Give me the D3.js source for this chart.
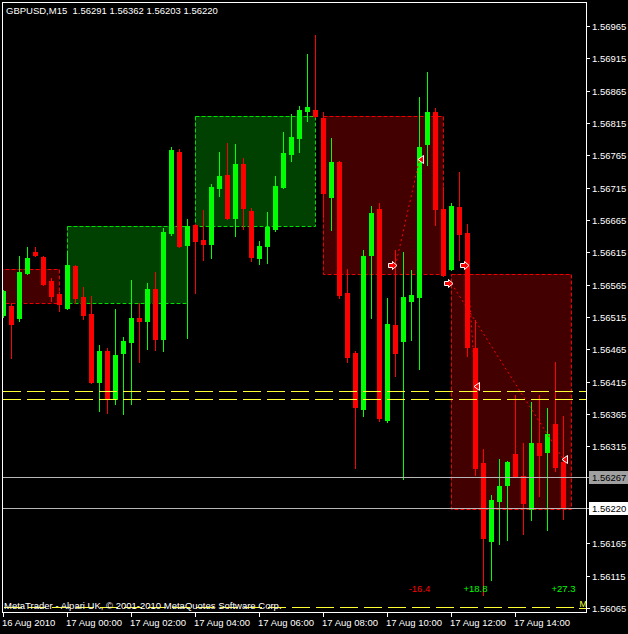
<!DOCTYPE html>
<html><head><meta charset="utf-8">
<script src="https://cdn.jsdelivr.net/npm/d3@7/dist/d3.min.js"></script>
<style>html,body{margin:0;padding:0;background:#000;}svg{display:block;}</style>
</head><body><svg id="c" width="628" height="634"></svg>
<script>
const titleText = "GBPUSD,M15  1.56291 1.56362 1.56203 1.56220";
const copyrightText = "MetaTrader - Alpari UK, \u00A9 2001-2010 MetaQuotes Software Corp.";
// bar index 0 = 17 Aug 00:00 (M15 bars); first bar = 16 Aug 22:00
const barIndex = d3.range(-8, 63);
const opens = [1.56518,1.56532,1.56513,1.56583,1.56616,1.56608,1.56571,1.56551,
1.56529,1.56594,1.56546,1.56520,1.56414,1.56462,1.56388,1.56459,1.56476,1.56513,1.56509,1.56558,1.56481,1.56645,1.56770,1.56626,
1.56657,1.56634,1.56628,1.56714,1.56735,1.56668,1.56752,1.56679,1.56606,1.56625,1.56651,1.56716,1.56767,1.56792,1.56834,1.56835,
1.56823,1.56701,1.56755,1.56552,1.56459,1.56373,1.56611,1.56682,1.56356,1.56503,1.56478,1.56540,1.56546,1.56783,1.56832,1.56682,
1.56589,1.56685,1.56645,1.56467,1.56289,1.56169,1.56230,1.56255,1.56303,1.56269,1.56218,1.56320,1.56306,1.56350,1.56291];
const highs = [1.56557,1.56537,1.56609,1.56623,1.56623,1.56609,1.56575,1.56554,
1.56617,1.56595,1.56561,1.56547,1.56472,1.56467,1.56527,1.56484,1.56572,1.56537,1.56568,1.56585,1.56653,1.56778,1.56775,1.56667,
1.56659,1.56680,1.56721,1.56770,1.56784,1.56783,1.56761,1.56684,1.56633,1.56677,1.56733,1.56801,1.56829,1.56841,1.56922,1.56951,
1.56832,1.56792,1.56756,1.56589,1.56462,1.56619,1.56687,1.56691,1.56544,1.56619,1.56616,1.56588,1.56855,1.56894,1.56838,1.56716,
1.56691,1.56739,1.56659,1.56510,1.56311,1.56240,1.56295,1.56292,1.56394,1.56320,1.56384,1.56394,1.56374,1.56445,1.56362];
const lows = [1.56515,1.56452,1.56509,1.56582,1.56609,1.56565,1.56540,1.56524,
1.56527,1.56537,1.56512,1.56413,1.56370,1.56367,1.56380,1.56365,1.56380,1.56445,1.56465,1.56464,1.56462,1.56642,1.56623,1.56483,
1.56552,1.56603,1.56606,1.56702,1.56666,1.56640,1.56651,1.56602,1.56597,1.56599,1.56648,1.56714,1.56756,1.56770,1.56818,1.56824,
1.56670,1.56650,1.56544,1.56445,1.56281,1.56362,1.56513,1.56354,1.56353,1.56424,1.56265,1.56479,1.56435,1.56750,1.56657,1.56578,
1.56588,1.56603,1.56455,1.56271,1.56085,1.56108,1.56164,1.56170,1.56268,1.56179,1.56201,1.56238,1.56186,1.56277,1.56203];
const closes = [1.56555,1.56504,1.56585,1.56606,1.56611,1.56566,1.56547,1.56535,
1.56595,1.56544,1.56518,1.56414,1.56462,1.56388,1.56456,1.56478,1.56513,1.56509,1.56558,1.56481,1.56646,1.56773,1.56625,1.56656,
1.56633,1.56628,1.56716,1.56733,1.56668,1.56752,1.56684,1.56608,1.56625,1.56654,1.56718,1.56769,1.56793,1.56835,1.56840,1.56826,
1.56707,1.56755,1.56549,1.56453,1.56376,1.56609,1.56676,1.56359,1.56504,1.56459,1.56546,1.56549,1.56778,1.56832,1.56682,1.56580,
1.56687,1.56643,1.56469,1.56281,1.56173,1.56232,1.56254,1.56291,1.56269,1.56227,1.56320,1.56302,1.56334,1.56283,1.56220];

const timeTickIndex = [-8, 0, 8, 16, 24, 32, 40, 48, 56];
const timeTickLabels = ["16 Aug 2010","17 Aug 00:00","17 Aug 02:00","17 Aug 04:00","17 Aug 06:00","17 Aug 08:00","17 Aug 10:00","17 Aug 12:00","17 Aug 14:00"];
const priceTicks = [1.56965,1.56915,1.56865,1.56815,1.56765,1.56715,1.56665,1.56615,1.56565,1.56515,1.56465,1.56415,1.56365,1.56315,1.56165,1.56115,1.56065];

// session boxes
const boxStart = [-16, 0, 16, 32, 48];
const boxEnd = [-1, 15, 31, 47, 63];
const boxTop = [1.56589, 1.56655, 1.56826, 1.56826, 1.56581];
const boxBottom = [1.56536, 1.56536, 1.56655, 1.56581, 1.56218];
const boxKind = ["down", "up", "up", "down", "down"];

// trades
const tradeOpenIndex = [41, 50, 48];
const tradeOpenPrice = [1.56595, 1.56596, 1.56568];
const tradeCloseIndex = [44, 51, 62];
const tradeClosePrice = [1.56759, 1.56408, 1.56295];
const tradeResult = ["-16.4", "+18.8", "+27.3"];

const yellowLinePrices = [1.56401, 1.56388];
const bottomLinePrice = 1.56065;
const priceLinePrices = [1.56267, 1.56220];
const priceLineLabels = ["1.56267", "1.56220"];

const FONT = "'Liberation Sans', Arial, sans-serif";
const svg = d3.select("#c");
svg.append("rect").attr("width", 628).attr("height", 634).attr("fill", "#000");

const x = d3.scaleLinear().domain([0, 1]).range([67, 75]);
const y = d3.scaleLinear().domain([1.56065, 1.56965]).range([608, 26]);
const py = p => Math.round(y(p));

svg.append("clipPath").attr("id", "plot").append("rect").attr("x", 3).attr("y", 3).attr("width", 583).attr("height", 609);
const plot = svg.append("g").attr("clip-path", "url(#plot)");

// boxes
const boxes = boxStart.map((s, i) => ({s, e: boxEnd[i], t: boxTop[i], b: boxBottom[i], k: boxKind[i]}));
const bg = plot.append("g");
boxes.forEach(d => {
  const x0 = x(d.s), x1 = x(d.e), y0 = py(d.t), y1 = py(d.b);
  bg.append("rect").attr("x", x0).attr("y", y0).attr("width", x1 - x0).attr("height", y1 - y0)
    .attr("fill", d.k === "up" ? "#004000" : "#420000");
  bg.append("rect").attr("x", x0 + 0.5).attr("y", y0 + 0.5).attr("width", x1 - x0).attr("height", y1 - y0)
    .attr("fill", "none").attr("stroke", d.k === "up" ? "#00e000" : "#ee0000").attr("stroke-width", 1)
    .attr("stroke-dasharray", "4,2");
});

// candles
const bars = barIndex.map((k, i) => ({k, o: opens[i], h: highs[i], l: lows[i], c: closes[i]}));
const cg = plot.append("g");
bars.forEach(d => {
  const col = d.c >= d.o ? "#00ff00" : "#ff0000";
  const cx = x(d.k);
  cg.append("line").attr("x1", cx + 0.5).attr("x2", cx + 0.5).attr("y1", py(d.h)).attr("y2", py(d.l) + 1)
    .attr("stroke", col).attr("stroke-width", 1);
  const top = py(Math.max(d.o, d.c)), bot = py(Math.min(d.o, d.c));
  cg.append("rect").attr("x", cx - 2).attr("y", top).attr("width", 5).attr("height", Math.max(1, bot - top + 1))
    .attr("fill", col);
});

// yellow dashed lines
yellowLinePrices.forEach(p => {
  plot.append("line").attr("x1", 3).attr("x2", 586).attr("y1", py(p) + 0.5).attr("y2", py(p) + 0.5)
    .attr("stroke", "#ffff33").attr("stroke-width", 1).attr("stroke-dasharray", "18,6");
});
// price lines
priceLinePrices.forEach(p => {
  svg.append("line").attr("x1", 3).attr("x2", 590).attr("y1", py(p) + 0.5).attr("y2", py(p) + 0.5)
    .attr("stroke", "#b8b8b8").attr("stroke-width", 1);
});

// trades
const trades = tradeOpenIndex.map((o, i) => ({oi: o, op: tradeOpenPrice[i], ci: tradeCloseIndex[i], cp: tradeClosePrice[i], r: tradeResult[i]}));
const tg = plot.append("g");
trades.forEach(t => {
  const ox = x(t.oi), oy = py(t.op), cx = x(t.ci), cy = py(t.cp);
  tg.append("line").attr("x1", ox + 0.5).attr("y1", oy + 0.5).attr("x2", cx + 0.5).attr("y2", cy + 0.5)
    .attr("stroke", "#ff0000").attr("stroke-width", 1).attr("stroke-dasharray", "2,3");
});
trades.forEach(t => {
  const ox = x(t.oi) + 0.5, oy = py(t.op) + 0.5, cx = x(t.ci) + 0.5, cy = py(t.cp) + 0.5;
  tg.append("path")
    .attr("d", `M${ox-7},${oy-2}L${ox-3},${oy-2}L${ox-3},${oy-4}L${ox+1.5},${oy}L${ox-3},${oy+4}L${ox-3},${oy+2}L${ox-7},${oy+2}Z`)
    .attr("fill", "#ff0000").attr("stroke", "#ffffff").attr("stroke-width", 1);
  tg.append("path")
    .attr("d", `M${cx-1.5},${cy}L${cx+4},${cy-4}L${cx+4},${cy+4}Z`)
    .attr("fill", "#ff0000").attr("stroke", "#ffffff").attr("stroke-width", 1);
  tg.append("text").attr("x", cx).attr("y", 592).attr("text-anchor", "middle")
    .attr("font-family", FONT).attr("font-size", 9.5)
    .attr("fill", t.r.startsWith("-") ? "#ff0000" : "#00ff00").text(t.r);
});

// bottom yellow line + copyright
svg.append("line").attr("x1", 4).attr("x2", 578).attr("y1", py(bottomLinePrice) - 0.5).attr("y2", py(bottomLinePrice) - 0.5)
  .attr("stroke", "#ffff33").attr("stroke-width", 1).attr("stroke-dasharray", "18,6");
svg.append("text").attr("x", 4).attr("y", 609).attr("font-family", FONT).attr("font-size", 9.5)
  .attr("fill", "#ffffff").text(copyrightText);
svg.append("text").attr("x", 579.5).attr("y", 606.5).attr("font-family", FONT).attr("font-size", 9)
  .attr("fill", "#ffff33").text("M");
svg.append("line").attr("x1", 579).attr("x2", 587).attr("y1", 608.5).attr("y2", 608.5).attr("stroke", "#ffff33");

// frame
svg.append("rect").attr("x", 2.5).attr("y", 2.5).attr("width", 584).attr("height", 610)
  .attr("fill", "none").attr("stroke", "#ffffff").attr("stroke-width", 1);

// title
svg.append("text").attr("x", 6).attr("y", 14).attr("font-family", FONT).attr("font-size", 9.5)
  .attr("fill", "#ffffff").attr("xml:space", "preserve").style("white-space", "pre").text(titleText);

// price axis
const pa = svg.append("g");
priceTicks.forEach(p => {
  const yy = py(p) + 0.5;
  pa.append("line").attr("x1", 587).attr("x2", 590).attr("y1", yy).attr("y2", yy).attr("stroke", "#ffffff");
  pa.append("text").attr("x", 592).attr("y", yy).attr("dy", "0.35em").attr("font-family", FONT)
    .attr("font-size", 9.5).attr("fill", "#ffffff").text(p.toFixed(5));
});
priceLinePrices.forEach((p, i) => {
  const yy = py(p);
  pa.append("rect").attr("x", 589).attr("y", yy - 6).attr("width", 39).attr("height", 13)
    .attr("fill", i === 0 ? "#a0a0a0" : "#ffffff");
  pa.append("text").attr("x", 592).attr("y", yy + 0.5).attr("dy", "0.35em").attr("font-family", FONT)
    .attr("font-size", 9.5).attr("fill", "#000000").text(priceLineLabels[i]);
});

// time axis
const ta = svg.append("g");
timeTickIndex.forEach((k, i) => {
  const xx = x(k) + 0.5;
  ta.append("line").attr("x1", xx).attr("x2", xx).attr("y1", 613).attr("y2", 617).attr("stroke", "#ffffff");
  ta.append("text").attr("x", x(k) - 1).attr("y", 626).attr("font-family", FONT).attr("font-size", 9.5)
    .attr("fill", "#ffffff").text(timeTickLabels[i]);
});
</script></body></html>
